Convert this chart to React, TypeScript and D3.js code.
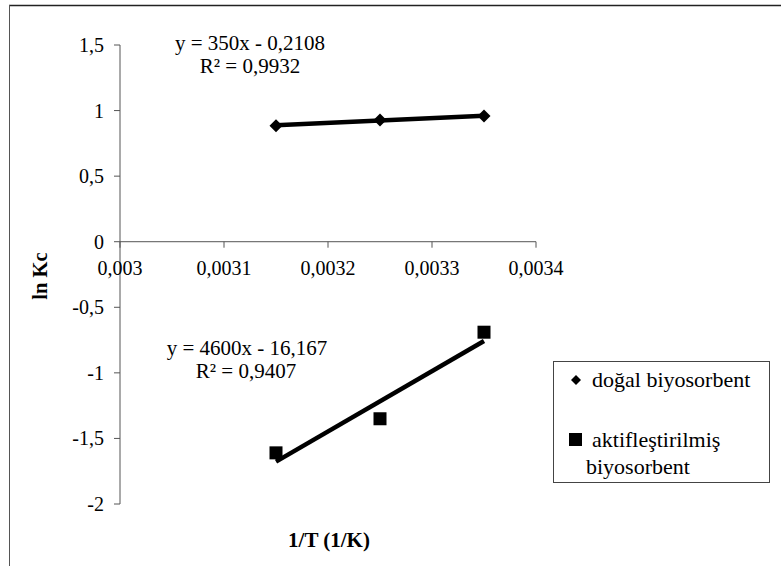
import React from "react";
import * as d3 from "d3";

// 1/T values (1/K)
const invT = [0.00315, 0.00325, 0.00335];
// ln Kc for each sorbent
const dogal = [0.885, 0.928, 0.958];
const aktif = [-1.61, -1.35, -0.69];

const xTicks = [0.003, 0.0031, 0.0032, 0.0033, 0.0034];
const yTicks = [1.5, 1, 0.5, 0, -0.5, -1, -1.5, -2];

const fmt = (v: number) => String(v).replace(".", ",");

// least squares, same as Excel's linear trendline
function fit(xs: number[], ys: number[]) {
  const mx = d3.mean(xs)!;
  const my = d3.mean(ys)!;
  const num = d3.sum(xs, (x, i) => (x - mx) * (ys[i] - my));
  const den = d3.sum(xs, (x) => (x - mx) ** 2);
  const m = num / den;
  return { m, b: my - m * mx };
}

export default function App() {
  const W = 781;
  const H = 566;
  const x = d3.scaleLinear().domain([0.003, 0.0034]).range([120, 536]);
  const y = d3.scaleLinear().domain([-2, 1.5]).range([504, 45]);

  const trend = (ys: number[]) => {
    const { m, b } = fit(invT, ys);
    const x0 = invT[0];
    const x1 = invT[invT.length - 1];
    return d3.line()([
      [x(x0), y(m * x0 + b)],
      [x(x1), y(m * x1 + b)],
    ]) as string;
  };

  // square rotated 45deg
  const diamond = (r: number) => `M0,${-r}L${r},0L0,${r}L${-r},0Z`;

  return (
    <svg
      width={W}
      height={H}
      style={{ position: "absolute", left: 0, top: 0, fontFamily: "'Liberation Serif', 'Times New Roman', serif" }}
    >
      <rect x={0} y={0} width={W} height={H} fill="#fff" />
      {/* outer frame (cut at right and bottom) */}
      <line x1={9} y1={5.5} x2={W} y2={5.5} stroke="#222" strokeWidth={1.5} />
      <line x1={9.5} y1={5} x2={9.5} y2={H} stroke="#555" strokeWidth={1} />

      {/* y axis */}
      <line x1={x(0.003)} y1={y(1.5)} x2={x(0.003)} y2={y(-2)} stroke="#555" />
      {yTicks.map((t) => (
        <g key={t}>
          <line x1={x(0.003) - 6} x2={x(0.003)} y1={y(t)} y2={y(t)} stroke="#555" />
          <text x={x(0.003) - 16} y={y(t) + 7} textAnchor="end" fontSize={20}>
            {fmt(t)}
          </text>
        </g>
      ))}
      {/* x axis at y = 0 */}
      <line x1={x(0.003)} x2={x(0.0034)} y1={y(0)} y2={y(0)} stroke="#555" />
      {xTicks.map((t) => (
        <g key={t}>
          <line x1={x(t)} x2={x(t)} y1={y(0)} y2={y(0) + 6} stroke="#555" />
          <text x={x(t)} y={y(0) + 33} textAnchor="middle" fontSize={20}>
            {fmt(t)}
          </text>
        </g>
      ))}

      {/* trend lines */}
      <path d={trend(dogal)} stroke="#000" strokeWidth={4.5} fill="none" />
      <path d={trend(aktif)} stroke="#000" strokeWidth={4.5} fill="none" />

      {/* markers */}
      {invT.map((v, i) => (
        <path key={"d" + i} d={diamond(6.5)} transform={`translate(${x(v)},${y(dogal[i])})`} fill="#000" />
      ))}
      {invT.map((v, i) => (
        <rect key={"a" + i} x={x(v) - 6.5} y={y(aktif[i]) - 6.5} width={13} height={13} fill="#000" />
      ))}

      {/* equations */}
      <text x={250} y={50} textAnchor="middle" fontSize={21}>y = 350x - 0,2108</text>
      <text x={250} y={73} textAnchor="middle" fontSize={21}>R² = 0,9932</text>
      <text x={247} y={355} textAnchor="middle" fontSize={21}>y = 4600x - 16,167</text>
      <text x={246} y={378} textAnchor="middle" fontSize={21}>R² = 0,9407</text>

      {/* axis titles */}
      <text transform="translate(47,276) rotate(-90)" textAnchor="middle" fontSize={20.5} fontWeight="bold">
        ln Kc
      </text>
      <text x={329} y={547} textAnchor="middle" fontSize={21} fontWeight="bold">
        1/T (1/K)
      </text>

      {/* legend */}
      <rect x={553.5} y={361.5} width={216} height={121} fill="#fff" stroke="#444" />
      <path d={diamond(5)} transform="translate(576,380)" fill="#000" />
      <text x={592} y={387} fontSize={22}>doğal biyosorbent</text>
      <rect x={569} y={433} width={13} height={13} fill="#000" />
      <text x={592} y={447} fontSize={22}>aktifleştirilmiş</text>
      <text x={586} y={474} fontSize={22}>biyosorbent</text>
    </svg>
  );
}
